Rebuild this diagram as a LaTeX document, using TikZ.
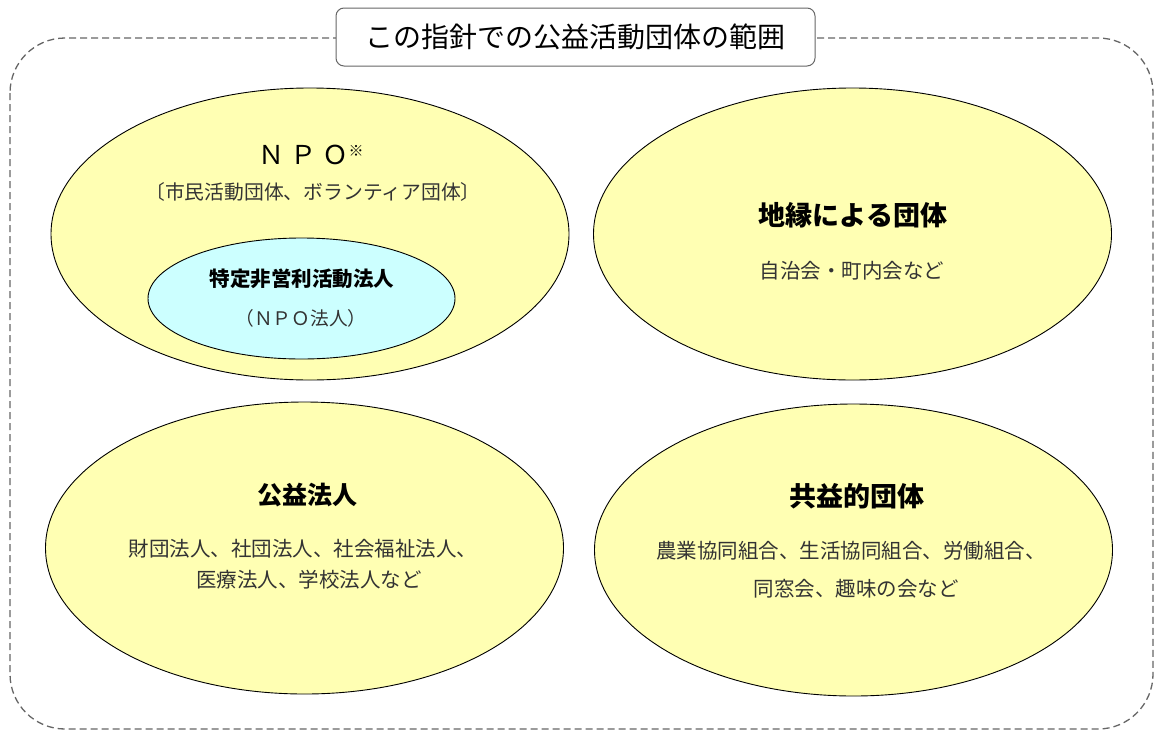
\documentclass[tikz,border=0pt]{standalone}
\usepackage{fontspec}
\newfontfamily\jp{Noto Sans CJK JP}
\usetikzlibrary{shapes.geometric}
\definecolor{yel}{HTML}{FFFFB3}
\definecolor{cya}{HTML}{CCFFFF}
\definecolor{frame}{HTML}{666666}
\begin{document}
\begin{tikzpicture}[x=1pt,y=-1pt,
  blob/.style={ellipse, draw=black, line width=0.9pt, fill=yel, inner sep=0pt,
    minimum width=518pt, minimum height=292pt},
  inner/.style={ellipse, draw=black, line width=0.9pt, fill=cya, inner sep=0pt,
    minimum width=307pt, minimum height=121pt},
  head/.style={font=\jp\bfseries\fontsize{25}{30}\selectfont, inner sep=0pt},
  body/.style={font=\jp\fontsize{20.5}{30}\selectfont, inner sep=0pt, text=black!80, align=center}]
\useasboundingbox (0,0) rectangle (1155,731);
\draw[frame, line width=1.3pt, dash pattern=on 7pt off 4pt, rounded corners=55pt]
  (10,38) rectangle (1153,729);
\node[draw=frame, fill=white, line width=1pt, rounded corners=8pt, inner sep=0pt,
  minimum width=479pt, minimum height=58pt, font=\jp\fontsize{28}{30}\selectfont]
  (title) at (575.5,37) {この指針での公益活動団体の範囲};
\node[blob] (npo) at (310,234) {};
\node[blob] (chien) at (852.5,234) {};
\node[blob] (koueki) at (304.5,548) {};
\node[blob] (kyoueki) at (853.5,550) {};
\node[inner] (npohj) at (301.5,298.5) {};
% NPO
\node[inner sep=0pt, font=\jp\fontsize{26}{30}\selectfont] (npot) at (311,155)
  {Ｎ\hspace{6pt}Ｐ\hspace{6pt}Ｏ\raisebox{8pt}{\fontsize{15}{15}\selectfont ※}};
\node[body, font=\jp\fontsize{19.8}{30}\selectfont] (npob) at (313,192) {〔市民活動団体、ボランティア団体〕};
\node[head, font=\jp\bfseries\fontsize{20.5}{30}\selectfont] (npohjt) at (302,279) {特定非営利活動法人};
\node[body, font=\jp\fontsize{18.7}{30}\selectfont] (npohjb) at (301,318) {（ＮＰＯ法人）};
% chien
\node[head, font=\jp\bfseries\fontsize{27}{30}\selectfont] (chient) at (853,215) {地縁による団体};
\node[body] (chienb) at (852,271) {自治会・町内会など};
% koueki
\node[head] (kouekit) at (307,495) {公益法人};
\node[body] (kouekib1) at (303,549) {財団法人、社団法人、社会福祉法人、};
\node[body] (kouekib2) at (309,580) {医療法人、学校法人など};
% kyoueki
\node[head, font=\jp\bfseries\fontsize{27}{30}\selectfont] (kyouekit) at (857,496) {共益的団体};
\node[body] (kyouekib1) at (851,551) {農業協同組合、生活協同組合、労働組合、};
\node[body] (kyouekib2) at (856,589) {同窓会、趣味の会など};
\end{tikzpicture}
\end{document}
